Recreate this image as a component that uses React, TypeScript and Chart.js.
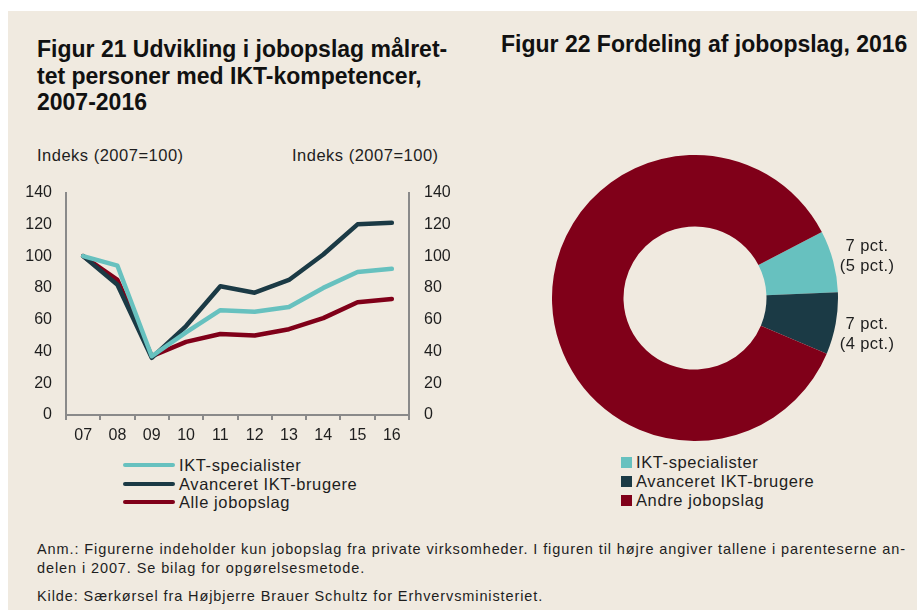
import React, { useEffect, useRef } from "react";
import { Chart, registerables } from "chart.js";
Chart.register(...registerables);

const years = ["07", "08", "09", "10", "11", "12", "13", "14", "15", "16"];
const iktSpecialister = [100, 94, 37, 52, 66, 65, 68, 80, 90, 92];
const avanceretIKT = [100, 82, 36, 56, 81, 77, 85, 101, 120, 121];
const alleJobopslag = [100, 85, 37, 46, 51, 50, 54, 61, 71, 73];
const yMin = 0;
const yMax = 140;
const yStep = 20;

const seriesNames = ["IKT-specialister", "Avanceret IKT-brugere", "Alle jobopslag"];
const donutNames = ["IKT-specialister", "Avanceret IKT-brugere", "Andre jobopslag"];
const donutShares2016 = [7, 7, 86];
const donutShares2007 = [5, 4];

const TEAL = "#67c1bf";
const DARK = "#1b3a45";
const RED = "#800019";
const BG = "#f0eae0";
const AXIS = "#8a8a8a";
const TXT = "#1e1e1e";
const FONT = "'Liberation Sans', Arial, sans-serif";

function LineChart() {
  const ref = useRef<HTMLCanvasElement>(null);
  useEffect(() => {
    const tickFont = { family: FONT, size: 16 };
    const yCommon = {
      min: yMin,
      max: yMax,
      grid: { display: false, drawTicks: false },
      border: { display: true, color: AXIS, width: 2 },
      ticks: { stepSize: yStep, color: TXT, font: tickFont },
    };
    const lineStyle = { borderWidth: 4.5, pointRadius: 0, tension: 0, borderCapStyle: "round", borderJoinStyle: "round", yAxisID: "y" };
    const chart = new Chart(ref.current!, {
      type: "line",
      data: {
        labels: years,
        datasets: [
          { label: seriesNames[0], data: iktSpecialister, borderColor: TEAL, backgroundColor: TEAL, ...lineStyle },
          { label: seriesNames[1], data: avanceretIKT, borderColor: DARK, backgroundColor: DARK, ...lineStyle },
          { label: seriesNames[2], data: alleJobopslag, borderColor: RED, backgroundColor: RED, ...lineStyle },
        ],
      } as any,
      options: {
        animation: false,
        responsive: false,
        layout: { padding: { top: 0, bottom: 0, left: 0, right: 0 } },
        plugins: { legend: { display: false }, tooltip: { enabled: false } },
        scales: {
          x: {
            type: "category",
            offset: true,
            grid: { display: true, drawOnChartArea: false, drawTicks: true, tickLength: 5, color: AXIS, lineWidth: 2, offset: true },
            border: { display: true, color: AXIS, width: 2 },
            ticks: { color: TXT, font: tickFont, padding: 6, maxRotation: 0, autoSkip: false },
            afterFit: (s: any) => { s.height = 35; },
          },
          y: { ...yCommon, position: "left", ticks: { ...yCommon.ticks, padding: 14 }, afterFit: (s: any) => { s.width = 56; } },
          y2: { ...yCommon, position: "right", ticks: { ...yCommon.ticks, padding: 15 }, afterFit: (s: any) => { s.width = 61; } },
        },
      } as any,
    });
    return () => chart.destroy();
  }, []);
  return <canvas ref={ref} width={460} height={282} style={{ position: "absolute", left: 10, top: 168, width: 460, height: 282 }} />;
}

function DonutChart() {
  const ref = useRef<HTMLCanvasElement>(null);
  useEffect(() => {
    const chart = new Chart(ref.current!, {
      type: "doughnut",
      data: {
        labels: donutNames,
        datasets: [{ data: donutShares2016, backgroundColor: [TEAL, DARK, RED], borderWidth: 0 }],
      },
      options: {
        animation: false,
        responsive: false,
        cutout: "50%",
        rotation: 62.5,
        layout: { padding: 0 },
        plugins: { legend: { display: false }, tooltip: { enabled: false } },
      } as any,
    });
    return () => chart.destroy();
  }, []);
  return <canvas ref={ref} width={286} height={286} style={{ position: "absolute", left: 552, top: 155, width: 286, height: 286 }} />;
}

const abs = (left: number, top: number, extra: React.CSSProperties = {}): React.CSSProperties => ({
  position: "absolute", left, top, whiteSpace: "nowrap", ...extra,
});

export default function App() {
  const lineColors = [TEAL, DARK, RED];
  const donutColors = [TEAL, DARK, RED];
  const labelStyle: React.CSSProperties = { fontSize: 16.5, letterSpacing: 0.6, lineHeight: "18px" };
  return (
    <div style={{ position: "absolute", left: 0, top: 0, width: 917, height: 610, fontFamily: FONT, color: TXT, overflow: "hidden" }}>
      <div style={{ position: "absolute", left: 8, top: 11, width: 909, height: 599, background: BG }} />
      <div style={abs(37, 36, { fontSize: 23, fontWeight: "bold", lineHeight: "26.5px", color: "#111" })}>
        Figur 21 Udvikling i jobopslag målret-<br />tet personer med IKT-kompetencer,<br />2007-2016
      </div>
      <div style={abs(501, 31, { fontSize: 23, fontWeight: "bold", lineHeight: "27px", color: "#111" })}>
        Figur 22 Fordeling af jobopslag, 2016
      </div>
      <div style={abs(37, 145, { fontSize: 16.5, letterSpacing: 0.5, lineHeight: "20px" })}>Indeks (2007=100)</div>
      <div style={abs(292, 145, { fontSize: 16.5, letterSpacing: 0.5, lineHeight: "20px" })}>Indeks (2007=100)</div>
      <LineChart />
      <DonutChart />
      {seriesNames.map((n, i) => (
        <div key={n} style={abs(123, 456 + i * 18.5, { ...labelStyle, display: "flex", alignItems: "center" })}>
          <span style={{ display: "inline-block", width: 52, height: 4, borderRadius: 2, background: lineColors[i], marginRight: 4 }} />
          {n}
        </div>
      ))}
      {donutNames.map((n, i) => (
        <div key={n} style={abs(621, 453 + i * 19, { ...labelStyle, display: "flex", alignItems: "center" })}>
          <span style={{ display: "inline-block", width: 11, height: 11, background: donutColors[i], marginRight: 4 }} />
          {n}
        </div>
      ))}
      {donutShares2007.map((v, i) => (
        <div key={i} style={abs(834, 235 + i * 78, { fontSize: 16.5, letterSpacing: 0.4, lineHeight: "20px", textAlign: "center", width: 66 })}>
          {donutShares2016[i]} pct.<br />({v} pct.)
        </div>
      ))}
      <div style={abs(37, 540, { fontSize: 14.5, letterSpacing: 0.9, lineHeight: "19px" })}>
        Anm.: Figurerne indeholder kun jobopslag fra private virksomheder. I figuren til højre angiver tallene i parenteserne an-<br />delen i 2007. Se bilag for opgørelsesmetode.
      </div>
      <div style={abs(37, 587, { fontSize: 14.5, letterSpacing: 0.9, lineHeight: "19px" })}>
        Kilde: Særkørsel fra Højbjerre Brauer Schultz for Erhvervsministeriet.
      </div>
    </div>
  );
}
